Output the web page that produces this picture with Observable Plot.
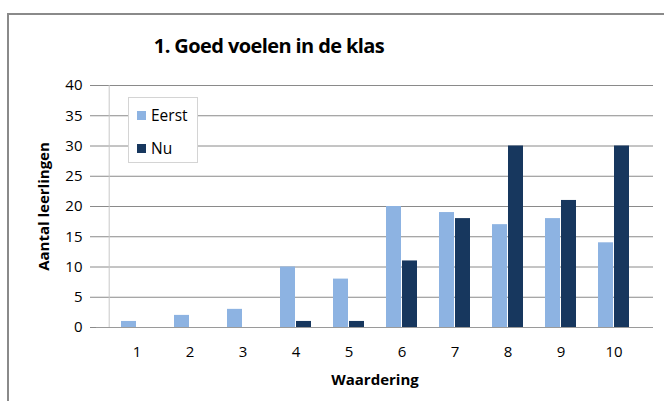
<!DOCTYPE html>
<html>
<head>
<meta charset="utf-8">
<script src="https://cdn.jsdelivr.net/npm/d3@7"></script>
<script src="https://cdn.jsdelivr.net/npm/@observablehq/plot@0.6"></script>
<style>
  html, body { margin: 0; padding: 0; background: #fff; }
  #wrap { position: relative; width: 664px; height: 401px; overflow: hidden; font-family: "Open Sans", sans-serif; }
  #frame { position: absolute; left: 7px; top: 13px; width: 700px; height: 450px; border: 2px solid #8a8a8a; box-sizing: border-box; }
  #title { position: absolute; left: 0; top: 32px; width: 538px; text-align: center; font-size: 20px; font-weight: bold; color: #000; letter-spacing: -0.6px; }
  #chart { position: absolute; left: 0; top: 0; }
  #chart g[aria-label$="tick label"] text { font-size: 15px !important; }
  #legend { position: absolute; left: 128px; top: 97px; width: 70px; height: 66px; box-sizing: border-box; border: 1px solid #d4d4d4; background: #fff; font-size: 15.5px; color: #000; }
  .item { position: absolute; left: 8px; display: flex; align-items: center; line-height: 18px; }
  .sw { width: 9px; height: 9px; margin-right: 5px; }
</style>
</head>
<body>
<div id="wrap">
  <div id="frame"></div>
  <div id="chart"></div>
  <div id="title">1. Goed voelen in de klas</div>
  <div id="legend">
    <div class="item" style="top:8px"><div class="sw" style="background:#8db3e2"></div><span>Eerst</span></div>
    <div class="item" style="top:41px"><div class="sw" style="background:#17375e"></div><span>Nu</span></div>
  </div>
</div>
<script>
const categories = ["1","2","3","4","5","6","7","8","9","10"];
const eerst = [1, 2, 3, 10, 8, 20, 19, 17, 18, 14];
const nu = [0, 0, 0, 1, 1, 11, 18, 30, 21, 30];
const series = ["Eerst", "Nu"];
const colors = ["#8db3e2", "#17375e"];
const yTicks = [0, 5, 10, 15, 20, 25, 30, 35, 40];

const rowsE = categories.map((c, i) => ({cat: c, value: eerst[i], series: series[0]}));
const rowsN = categories.map((c, i) => ({cat: c, value: nu[i], series: series[1]}));

const chart = Plot.plot({
  width: 664,
  height: 401,
  marginLeft: 96,
  marginRight: 11,
  marginTop: 85,
  marginBottom: 74,
  style: {fontFamily: "'Open Sans', sans-serif", fontSize: "15px", color: "#000", background: "transparent"},
  x: {domain: categories, padding: 0.4245, label: null},
  y: {domain: [0, 40], ticks: yTicks, label: null},
  marks: [
    Plot.gridY(yTicks.slice(1), {stroke: "#8a8a8a", strokeOpacity: 1}),
    Plot.ruleY([0], {stroke: "#9a9a9a", strokeOpacity: 1}),
    Plot.ruleX(["1"], {x: d => d, y1: 0, y2: 40, dx: -27.8, stroke: "#c8c8c8"}),
    Plot.axisY(yTicks, {tickSize: 6, tickPadding: 8, stroke: "#8a8a8a", fontSize: 15, label: null, fill: "#000"}),
    Plot.axisX({tickSize: 0, tickPadding: 19, fontSize: 15, label: null, fill: "#000"}),
    Plot.barY(rowsE, {x: "cat", y: "value", fill: colors[0], insetRight: 16, insetLeft: 0}),
    Plot.barY(rowsN, {x: "cat", y: "value", fill: colors[1], insetLeft: 16, insetRight: 0}),
    Plot.text(["Waardering"], {frameAnchor: "bottom", dy: 57, fontWeight: "bold", fontSize: 15, fill: "#000"}),
    Plot.text(["Aantal leerlingen"], {frameAnchor: "left", textAnchor: "middle", dx: -52, rotate: -90, fontWeight: "bold", fontSize: 15, fill: "#000"})
  ]
});
document.getElementById("chart").appendChild(chart);
</script>
</body>
</html>
